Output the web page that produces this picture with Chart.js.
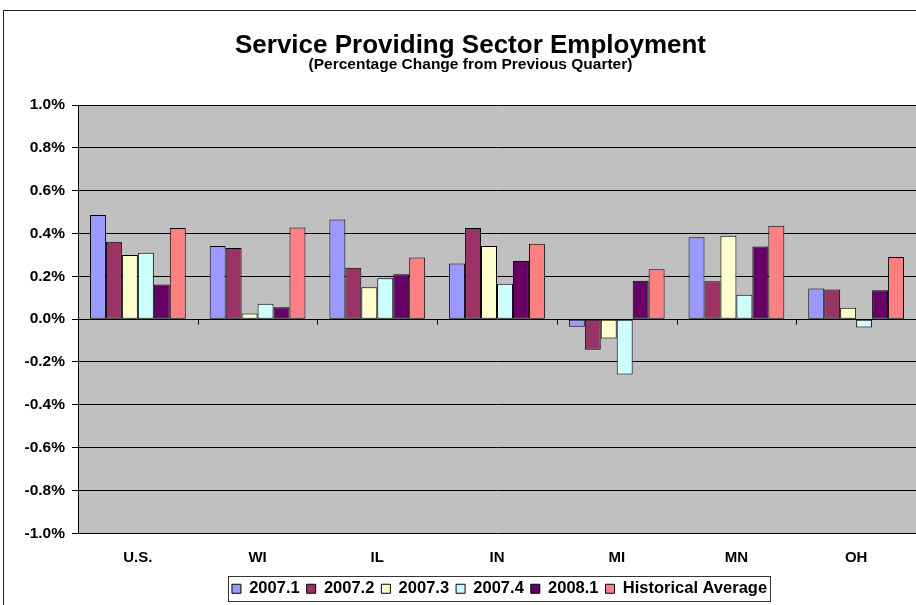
<!DOCTYPE html>
<html>
<head>
<meta charset="utf-8">
<script src="https://cdn.jsdelivr.net/npm/chart.js@4.4.1/dist/chart.umd.min.js"></script>
<style>
  html, body { margin: 0; padding: 0; background: #fff; }
  #wrap { width: 916px; height: 605px; position: relative; }
</style>
</head>
<body>
<div id="wrap"><canvas id="chart"></canvas></div>
<script>
const regions = ['U.S.', 'WI', 'IL', 'IN', 'MI', 'MN', 'OH'];
const seriesNames = ['2007.1', '2007.2', '2007.3', '2007.4', '2008.1', 'Historical Average'];
const q2007_1 = [0.486, 0.342, 0.465, 0.260, -0.036, 0.383, 0.143];
const q2007_2 = [0.361, 0.332, 0.240, 0.426, -0.143, 0.177, 0.139];
const q2007_3 = [0.299, 0.026, 0.149, 0.341, -0.090, 0.389, 0.053];
const q2007_4 = [0.310, 0.072, 0.191, 0.165, -0.258, 0.114, -0.039];
const q2008_1 = [0.162, 0.056, 0.210, 0.272, 0.179, 0.339, 0.135];
const histAvg = [0.426, 0.428, 0.288, 0.352, 0.233, 0.436, 0.290];
const yTicks = [-1.0, -0.8, -0.6, -0.4, -0.2, 0.0, 0.2, 0.4, 0.6, 0.8, 1.0];

const FONT = "'Liberation Sans', Arial, sans-serif";
const COLORS = ['#9999FF', '#993366', '#FFFFCC', '#CCFFFF', '#660066', '#FF8080'];

const plotBackground = {
  id: 'plotBackground',
  beforeDraw(chart) {
    const { ctx, chartArea: a } = chart;
    ctx.save();
    ctx.fillStyle = '#C0C0C0';
    ctx.fillRect(a.left, a.top, a.right - a.left, a.bottom - a.top);
    ctx.restore();
  },
};

// the legend box sits right of the plot centre in the original
const legendShift = {
  id: 'legendShift',
  afterLayout(chart) {
    chart.legend.left += 29;
    chart.legend.right += 29;
  },
};

const frameAndTicks = {
  id: 'frameAndTicks',
  afterDraw(chart) {
    const { ctx } = chart;
    const x = chart.scales.x;
    const y = chart.scales.y;
    const zero = Math.round(y.getPixelForValue(0)) + 0.5;
    const step = (x.right - x.left) / regions.length;
    ctx.save();
    ctx.strokeStyle = '#000';
    ctx.lineWidth = 1;
    ctx.beginPath();
    for (let i = 0; i <= regions.length; i++) {
      const px = Math.round(x.left + i * step) + 0.5;
      ctx.moveTo(px, zero);
      ctx.lineTo(px, zero + 5);
    }
    ctx.stroke();

    const boxes = chart.legend.legendHitBoxes;
    if (boxes && boxes.length) {
      const first = boxes[0];
      const last = boxes[boxes.length - 1];
      const l = Math.round(first.left) - 3.5;
      const r = Math.round(last.left + last.width) + 3.5;
      const t = Math.round(first.top) - 4.5;
      const b = Math.round(first.top + first.height) + 4.5;
      ctx.strokeStyle = '#333';
      ctx.strokeRect(l, t, r - l, b - t);
    }

    ctx.strokeStyle = '#222';
    ctx.strokeRect(3.5, 10.5, 2000, 2000);
    ctx.restore();
  },
};

const dataSets = [q2007_1, q2007_2, q2007_3, q2007_4, q2008_1, histAvg];

new Chart(document.getElementById('chart'), {
  type: 'bar',
  data: {
    labels: regions,
    datasets: dataSets.map((values, i) => ({
      label: seriesNames[i],
      data: values,
      backgroundColor: COLORS[i],
      borderColor: '#000',
      borderWidth: 1,
      borderSkipped: false,
      categoryPercentage: 0.8,
      barPercentage: 1.0,
    })),
  },
  options: {
    responsive: true,
    maintainAspectRatio: false,
    animation: false,
    layout: { padding: { left: 16, right: -9, top: 0, bottom: -2 } },
    plugins: {
      title: {
        display: true,
        text: 'Service Providing Sector Employment',
        color: '#000',
        font: { family: FONT, size: 26, weight: 'bold', lineHeight: 0.85 },
        padding: { top: 35, bottom: 0 },
      },
      subtitle: {
        display: true,
        text: '(Percentage Change from Previous Quarter)',
        color: '#000',
        font: { family: FONT, size: 15.5, weight: 'bold', lineHeight: 1 },
        padding: { top: 0, bottom: 32.4 },
      },
      legend: {
        position: 'bottom',
        labels: {
          color: '#000',
          font: { family: FONT, size: 16.5, weight: 'bold' },
          boxWidth: 9,
          boxHeight: 9,
          padding: 7,
        },
      },
      tooltip: { enabled: false },
    },
    scales: {
      x: {
        grid: { display: false, drawTicks: false, tickLength: 0 },
        border: { display: false },
        afterFit(scale) {
          scale.height = 40.2;
        },
        ticks: {
          color: '#000',
          font: { family: FONT, size: 15, weight: 'bold' },
          padding: 16,
          maxRotation: 0,
        },
      },
      y: {
        min: -1.0,
        max: 1.0,
        afterBuildTicks(scale) {
          scale.ticks = yTicks.map((v) => ({ value: v }));
        },
        afterFit(scale) {
          scale.width = 62;
        },
        ticks: {
          color: '#000',
          font: { family: FONT, size: 15.5, weight: 'bold' },
          padding: 7,
          callback: (v) => Number(v).toFixed(1) + '%',
        },
        grid: { color: '#000', lineWidth: 1, tickLength: 6 },
        border: { display: true, color: '#000' },
      },
    },
  },
  plugins: [plotBackground, legendShift, frameAndTicks],
});
</script>
</body>
</html>
